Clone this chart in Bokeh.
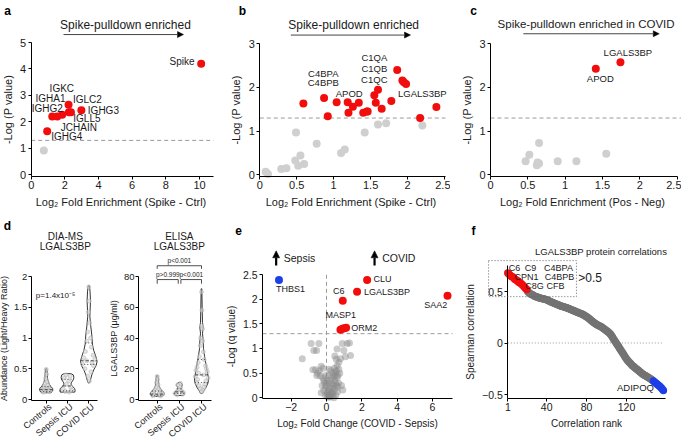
import numpy as np
from bokeh.plotting import figure
from bokeh.layouts import row, column
from bokeh.models import Label, Arrow, NormalHead, FixedTicker, BoxAnnotation, Range1d
from bokeh.embed import file_html
from bokeh.resources import INLINE

FONT = "Liberation Sans"
RED = "#f20d0d"
BLUE = "#1d3fe6"
LIGHT = "#cfcfcf"
DASH = "#9a9a9a"

# ---------------- data ----------------
# panel a
a_hit_x = [10.1, 0.95, 1.25, 1.55, 1.84, 2.22, 2.24, 2.36, 2.98]
a_hit_y = [4.20, 1.65, 2.20, 2.20, 2.27, 2.65, 2.36, 2.36, 2.44]
a_ns_x = [0.75]
a_ns_y = [0.92]
a_names = ["Spike", "IGKC", "IGHA1", "IGLC2", "IGHG2", "IGHG3", "IGLL5", "JCHAIN", "IGHG4"]
a_name_x = [8.96, 1.82, 1.15, 3.34, 0.95, 4.29, 3.31, 2.83, 2.11]
a_name_y = [4.28, 3.25, 2.90, 2.83, 2.52, 2.43, 2.12, 1.78, 1.46]

# panel b
b_hit_x = [0.59, 0.87, 0.92, 1.04, 1.19, 1.20, 1.26, 1.34, 1.40, 1.45, 1.46, 1.55, 1.57, 1.60, 1.65, 1.78, 1.86, 1.93, 1.95, 1.98, 2.17, 2.39]
b_hit_y = [1.63, 1.76, 1.34, 1.66, 1.66, 1.42, 1.56, 1.65, 1.42, 1.45, 1.45, 1.82, 1.65, 1.95, 1.51, 1.69, 2.40, 2.16, 2.12, 2.08, 1.30, 1.55]
b_ns_x = [0.49, 0.77, 0.48, 0.55, 0.52, 0.60, 0.29, 0.36, 0.08, 0.11, 1.10, 1.15, 1.42, 1.60, 1.71, 2.20]
b_ns_y = [0.97, 0.71, 0.33, 0.44, 0.21, 0.25, 0.13, 0.15, 0.07, 0.02, 0.50, 0.58, 0.97, 1.15, 1.18, 1.13]
b_names = ["C4BPA", "C4BPB", "APOD", "C1QA", "C1QB", "C1QC", "LGALS3BP"]
b_name_x = [0.86, 0.86, 1.21, 1.55, 1.55, 1.55, 2.20]
b_name_y = [2.33, 2.12, 1.86, 2.69, 2.43, 2.18, 1.86]

# panel c
c_hit_x = [1.74, 1.41]
c_hit_y = [2.58, 2.43]
c_ns_x = [0.65, 0.52, 0.47, 0.63, 0.62, 0.65, 0.90, 1.15, 1.55]
c_ns_y = [0.73, 0.46, 0.31, 0.28, 0.22, 0.26, 0.31, 0.31, 0.48]
c_names = ["LGALS3BP", "APOD"]
c_name_x = [1.84, 1.47]
c_name_y = [2.80, 2.21]

# panel d
groups = ["Controls", "Sepsis ICU", "COVID ICU"]
# DIA-MS violin outlines: levels and half widths (category units)
d1_levels = [
    [0.50, 0.42, 0.35, 0.30, 0.25, 0.21, 0.18, 0.15, 0.13, 0.11],
    [0.42, 0.40, 0.36, 0.32, 0.28, 0.25, 0.22, 0.18, 0.15, 0.12],
    [1.85, 1.75, 1.60, 1.45, 1.35, 1.20, 1.05, 0.90, 0.80, 0.70, 0.62, 0.55, 0.48, 0.40, 0.32, 0.27],
]
d1_half = [
    [0.03, 0.05, 0.06, 0.09, 0.14, 0.22, 0.30, 0.31, 0.28, 0.22],
    [0.16, 0.27, 0.30, 0.27, 0.19, 0.16, 0.22, 0.33, 0.36, 0.34],
    [0.03, 0.06, 0.08, 0.06, 0.05, 0.09, 0.14, 0.17, 0.23, 0.33, 0.39, 0.34, 0.23, 0.14, 0.08, 0.03],
]
d1_quart = [[0.13, 0.16, 0.21], [0.14, 0.22, 0.33], [0.57, 0.63, 0.92]]
d1_pts_y = [
    [0.49, 0.41, 0.34, 0.29, 0.26, 0.23, 0.21, 0.19, 0.18, 0.17, 0.16, 0.15, 0.15, 0.14, 0.13, 0.12],
    [0.40, 0.38, 0.35, 0.30, 0.25, 0.20, 0.17, 0.15, 0.13, 0.12],
    [1.83, 1.60, 1.42, 1.25, 1.10, 1.00, 0.95, 0.85, 0.78, 0.72, 0.68, 0.65, 0.63, 0.60, 0.58, 0.55, 0.50, 0.45, 0.38, 0.30],
]
d1_pts_dx = [
    [0.0, 0.02, -0.03, 0.04, -0.06, 0.08, -0.10, 0.12, -0.15, 0.05, 0.18, -0.20, 0.10, -0.08, 0.14, -0.12],
    [-0.08, 0.12, -0.15, 0.05, -0.05, 0.15, -0.20, 0.20, -0.10, 0.08],
    [0.0, 0.02, -0.03, 0.04, -0.06, 0.08, -0.10, 0.12, -0.16, 0.20, -0.24, 0.28, -0.10, 0.15, -0.30, 0.22, -0.18, 0.10, -0.05, 0.03],
]
d1_pval = "p=1.4x10\u207b\u2075"

# ELISA violins
d2_levels = [
    [15.5, 12.0, 9.0, 7.0, 5.5, 4.5, 3.5, 2.5, 2.0],
    [11.0, 10.0, 9.0, 8.0, 6.5, 5.5, 4.5, 3.5, 2.6],
    [72, 60, 50, 47, 43, 38, 33, 28, 23, 18, 14, 11, 8, 6, 4],
]
d2_half = [
    [0.03, 0.06, 0.08, 0.14, 0.24, 0.30, 0.32, 0.27, 0.15],
    [0.06, 0.12, 0.12, 0.08, 0.09, 0.15, 0.23, 0.24, 0.18],
    [0.015, 0.03, 0.045, 0.075, 0.045, 0.075, 0.09, 0.14, 0.20, 0.26, 0.32, 0.30, 0.21, 0.12, 0.045],
]
d2_quart = [[2.5, 3.5, 5.5], [4.0, 5.0, 7.0], [11.0, 16.0, 26.0]]
d2_pts_y = [
    [15.0, 13.0, 11.0, 9.5, 8.0, 7.0, 6.0, 5.5, 5.0, 4.5, 4.0, 4.0, 3.5, 3.0, 3.0, 2.5, 2.2],
    [10.5, 9.5, 8.0, 6.5, 5.5, 5.0, 4.5, 4.0, 3.5, 3.0],
    [70, 58, 48, 46, 40, 38, 35, 31, 28, 26, 24, 22, 21, 20, 19, 18, 17, 16, 15, 14, 13, 12, 11, 10, 9, 8, 7, 6, 5],
]
d2_pts_dx = [
    [0.0, 0.02, -0.03, 0.04, -0.05, 0.08, -0.1, 0.14, -0.16, 0.2, -0.22, 0.1, 0.25, -0.12, 0.06, -0.2, 0.15],
    [0.05, -0.08, 0.06, -0.05, 0.1, -0.12, 0.18, -0.2, 0.15, -0.1],
    [0.0, 0.02, 0.0, 0.05, -0.04, 0.05, -0.06, 0.08, -0.1, 0.12, -0.15, 0.18, -0.2, 0.22, -0.25, 0.26, -0.12, 0.1, -0.28, 0.3, -0.18, 0.2, -0.22, 0.15, -0.1, 0.12, -0.05, 0.06, 0.0],
]
d2_brackets_x = [[1, 1, 3, 3], [1, 1, 1.95, 1.95], [2.07, 2.07, 3, 3]]
d2_brackets_y = [[85, 87, 87, 85], [75.3, 78, 78, 75.3], [75.3, 78, 78, 75.3]]
d2_ptext = ["p<0.001", "p>0.999", "p<0.001"]
d2_ptext_x = [2.0, 1.48, 2.54]
d2_ptext_y = [90.2, 81.0, 81.0]

# panel e
e_up_x = [2.30, 1.73, 0.92, 6.85, 0.79, 0.90, 1.00, 1.11]
e_up_y = [2.39, 2.15, 1.97, 2.07, 1.38, 1.40, 1.41, 1.42]
e_down_x = [-2.69]
e_down_y = [2.39]
e_ns_x = [-1.37, -0.87, -0.72, -0.56, -0.43, -0.62, -0.77, -0.30, -0.55, -0.35, -0.15, -0.25, -0.06, -0.15, 0.04,
          -0.06, 0.13, 0.23, 0.32, 0.41, 0.51, 0.60, 0.41, 0.51, 0.70, 0.60, 0.47, 0.60, 0.89, 1.17, 0.98, 1.36,
          1.07, 0.79, 0.92, 0.64, 0.28, 1.30, 0.05, 0.15, 0.25, 0.35, 0.10, 0.20, 0.30, 0.45, 0.50, 0.35, 0.55,
          0.45, 0.30, 0.20, 0.10, 0.00, -0.10, -0.20, -0.40, -0.50, 0.38, 0.48, 0.58, 0.68, 0.62, 0.52, 0.42,
          0.02, 0.12, 0.25, 0.15, 0.65, 0.75, 0.85, -0.30, -0.05, 0.70, 0.55, -0.20, 0.08, 0.18]
e_ns_y = [0.79, 1.10, 0.96, 0.96, 1.10, 0.57, 0.57, 0.64, 0.45, 0.44, 0.35, 0.25, 0.22, 0.15, 0.10,
          0.05, 0.05, 0.13, 0.19, 0.25, 0.31, 0.41, 0.44, 0.52, 0.58, 0.65, 0.85, 0.99, 1.10, 1.10, 0.96, 0.86,
          0.83, 0.79, 0.16, 0.22, 0.09, 1.11, 0.02, 0.01, 0.03, 0.06, 0.15, 0.22, 0.28, 0.35, 0.45, 0.50, 0.55,
          0.60, 0.40, 0.35, 0.30, 0.25, 0.30, 0.40, 0.55, 0.50, 0.12, 0.18, 0.25, 0.30, 0.12, 0.05, 0.00,
          0.35, 0.45, 0.55, 0.58, 0.45, 0.50, 0.25, 0.10, 0.45, 0.72, 0.78, 0.60, 0.08, 0.04]
e_names = ["CLU", "LGALS3BP", "C6", "SAA2", "MASP1", "ORM2", "THBS1"]
e_name_x = [3.17, 3.43, 0.70, 6.19, 0.81, 2.13, -2.04]
e_name_y = [2.40, 2.15, 2.16, 1.89, 1.67, 1.42, 2.20]

# panel f: Spearman correlation by rank
f_corr = [0.68, 0.67, 0.66, 0.65, 0.645, 0.64, 0.63, 0.62, 0.615, 0.61, 0.60, 0.59, 0.585, 0.58, 0.57, 0.56, 0.55, 0.54, 0.53, 0.52,
          0.50, 0.49, 0.48, 0.475, 0.47, 0.465, 0.46, 0.455, 0.45, 0.448, 0.445, 0.44, 0.437, 0.435, 0.432, 0.43, 0.427, 0.425, 0.422, 0.42,
          0.415, 0.41, 0.405, 0.40, 0.396, 0.392, 0.388, 0.384, 0.38, 0.376, 0.372, 0.368, 0.364, 0.36, 0.357, 0.354, 0.351, 0.348, 0.345, 0.342,
          0.338, 0.334, 0.33, 0.326, 0.322, 0.318, 0.314, 0.31, 0.306, 0.302, 0.298, 0.294, 0.29, 0.286, 0.282, 0.278, 0.272, 0.266, 0.26, 0.254,
          0.248, 0.24, 0.232, 0.224, 0.215, 0.208, 0.20, 0.193, 0.186, 0.18, 0.175, 0.17, 0.165, 0.16, 0.155, 0.148, 0.14, 0.133, 0.126, 0.12,
          0.112, 0.104, 0.095, 0.085, 0.07, 0.055, 0.04, 0.025, 0.01, -0.005, -0.02, -0.035, -0.05, -0.065, -0.08, -0.095, -0.11, -0.125, -0.14, -0.155,
          -0.168, -0.18, -0.19, -0.20, -0.21, -0.22, -0.228, -0.236, -0.244, -0.252, -0.26, -0.268, -0.276, -0.284, -0.292, -0.30, -0.306, -0.312, -0.318, -0.324,
          -0.33, -0.336, -0.342, -0.348, -0.355, -0.362, -0.37, -0.378, -0.386, -0.394, -0.402, -0.41, -0.418, -0.428, -0.438, -0.45, -0.462]
f_pos_cut = 0.5
f_neg_count = 11
f_box_names = ["C6", "C9", "C4BPA", "CPN1", "C4BPB", "C8G", "CFB"]
f_box_x = [7.7, 23.8, 51.8, 19.7, 52.8, 27.8, 48.8]
f_box_y = [0.73, 0.73, 0.73, 0.636, 0.636, 0.55, 0.55]


# ---------------- helpers ----------------
def lin(cal):
    r1, v1, r2, v2 = cal
    k = (v2 - v1) / (r2 - r1)
    return lambda r: v1 + (r - r1) * k


def panel(x0, y0, W, H, xcal, ycal, left, right, bottom, ytop,
          tick_fs="10.5px", label_fs="10px", letter=None, letter_xy=(0, 0)):
    """Frame covers the whole figure; axes sit at fixed positions inside it."""
    fx, fy = lin(xcal), lin(ycal)
    p = figure(width=W, height=H, output_backend="svg", toolbar_location=None, title=None,
               x_range=Range1d(fx(x0), fx(x0 + W)), y_range=Range1d(fy(y0 + H), fy(y0)),
               min_border_left=0, min_border_right=0, min_border_top=0, min_border_bottom=0)
    p.outline_line_color = None
    p.xgrid.visible = False
    p.ygrid.visible = False
    xa, ya = p.xaxis[0], p.yaxis[0]
    xa.fixed_location = fy(bottom)
    ya.fixed_location = fx(left)
    xa.bounds = (fx(left), fx(right))
    ya.bounds = (fy(bottom), ytop)
    for ax in (xa, ya):
        ax.axis_line_color = "black"
        ax.axis_line_width = 1
        ax.major_tick_line_color = "black"
        ax.major_tick_in = 0
        ax.major_tick_out = 3
        ax.minor_tick_line_color = None
        ax.major_label_text_font = FONT
        ax.major_label_text_font_size = tick_fs
        ax.major_label_text_color = "#1a1a1a"
        ax.axis_label_text_font = FONT
        ax.axis_label_text_font_size = label_fs
        ax.axis_label_text_font_style = "normal"
        ax.axis_label_text_color = "#1a1a1a"
        ax.major_label_standoff = 2
        ax.axis_label_standoff = 3
    if letter:
        lx, ly = letter_xy
        p.add_layout(Label(x=lx - x0, y=H - (ly - y0), x_units="screen", y_units="screen",
                           text=letter, text_font=FONT, text_font_size="12px", text_font_style="bold",
                           text_align="center", text_baseline="middle", text_color="black"))
    return p


def txt(p, x, y, s, size="9.5px", align="center", color="#1a1a1a", angle=0.0):
    p.add_layout(Label(x=x, y=y, text=s, text_font=FONT, text_font_size=size, angle=angle,
                       text_align=align, text_baseline="middle", text_color=color))


def head_arrow(p, xs, ys, xe, ye, width=1, size=6, color="#444"):
    p.add_layout(Arrow(end=NormalHead(size=size, fill_color="black", line_color="black", line_width=0.5),
                       x_start=xs, y_start=ys, x_end=xe, y_end=ye,
                       line_color=color, line_width=width))


def hline(p, y, x_start=None, x_end=None, dash="4 3"):
    b0, b1 = p.xaxis[0].bounds
    x_start = b0 if x_start is None else x_start
    x_end = b1 if x_end is None else x_end
    p.line([x_start, x_end], [y, y], line_color=DASH, line_dash=dash, line_width=1)


# ---------------- panel a ----------------
pa = panel(0, 0, 225, 215, (30.7, 0, 199, 10), (174.3, 0, 42, 5), 30.7, 213, 175.5, 5,
           tick_fs="11px", label_fs="11px", letter="a", letter_xy=(7, 10))
pa.xaxis.ticker = FixedTicker(ticks=[0, 2, 4, 6, 8, 10])
pa.yaxis.ticker = FixedTicker(ticks=[0, 1, 2, 3, 4, 5])
pa.xaxis.axis_label = "Log\u2082 Fold Enrichment  (Spike - Ctrl)"
pa.yaxis.axis_label = "-Log (P value)"
hline(pa, 1.3)
pa.scatter(a_ns_x, a_ns_y, size=8, color=LIGHT, line_color=None)
pa.scatter(a_hit_x, a_hit_y, size=8, color=RED, line_color=None)
for n, x, y in zip(a_names, a_name_x, a_name_y):
    txt(pa, x, y, n, size="10px")
txt(pa, 5.6, 5.66, "Spike-pulldown enriched", size="12px")
head_arrow(pa, 1.92, 5.30, 9.05, 5.30)

# ---------------- panel b ----------------
pb = panel(225, 0, 225, 215, (259.3, 0, 444, 2.5), (174.3, 0, 43.3, 3), 259.3, 445, 175.5, 3,
           tick_fs="11px", label_fs="11px", letter="b", letter_xy=(242, 10))
pb.xaxis.ticker = FixedTicker(ticks=[0, 0.5, 1.0, 1.5, 2.0, 2.5])
pb.yaxis.ticker = FixedTicker(ticks=[0, 1, 2, 3])
pb.xaxis.axis_label = "Log\u2082 Fold Enrichment  (Spike - Ctrl)"
pb.yaxis.axis_label = "-Log (P value)"
hline(pb, 1.3)
pb.scatter(b_ns_x, b_ns_y, size=8, color=LIGHT, line_color=None)
pb.scatter(b_hit_x, b_hit_y, size=8, color=RED, line_color=None)
for n, x, y in zip(b_names, b_name_x, b_name_y):
    txt(pb, x, y, n)
txt(pb, 1.27, 3.43, "Spike-pulldown enriched", size="12px")
head_arrow(pb, 0.42, 3.20, 2.04, 3.20)

# ---------------- panel c ----------------
pc = panel(450, 0, 231, 215, (490, 0, 676.7, 2.5), (174.3, 0, 43.3, 3), 490, 677, 175.5, 3,
           tick_fs="11px", label_fs="11px", letter="c", letter_xy=(473, 10))
pc.xaxis.ticker = FixedTicker(ticks=[0, 0.5, 1.0, 1.5, 2.0, 2.5])
pc.yaxis.ticker = FixedTicker(ticks=[0, 1, 2, 3])
pc.xaxis.axis_label = "Log\u2082 Fold Enrichment  (Pos - Neg)"
pc.yaxis.axis_label = "-Log (P value)"
hline(pc, 1.3, x_end=2.55)
pc.scatter(c_ns_x, c_ns_y, size=8, color=LIGHT, line_color=None)
pc.scatter(c_hit_x, c_hit_y, size=8, color=RED, line_color=None)
for n, x, y in zip(c_names, c_name_x, c_name_y):
    txt(pc, x, y, n)
txt(pc, 1.28, 3.45, "Spike-pulldown enriched in COVID", size="11.5px")
head_arrow(pc, 0.44, 3.23, 2.26, 3.23)


# ---------------- panel d ----------------
def violins(p, levels, half, quart, pts_y, pts_dx):
    for i, (lv, hw, q, py, pdx) in enumerate(zip(levels, half, quart, pts_y, pts_dx)):
        c = i + 1
        xs = [c + w for w in hw] + [c - w for w in reversed(hw)]
        ys = list(lv) + list(reversed(lv))
        p.patch(xs, ys, fill_color="white", line_color="black", line_width=0.8)
        p.scatter([c + d for d in pdx], py, size=4, fill_color="#d0d0d0", fill_alpha=0.6,
                  line_color="#b0b0b0", line_width=0.5)
        order = np.argsort(lv)
        lv_s = np.asarray(lv, dtype=float)[order]
        hw_s = np.asarray(hw, dtype=float)[order]
        for k, qv in enumerate(q):
            w = float(np.interp(qv, lv_s, hw_s))
            p.line([c - w, c + w], [qv, qv], line_color="#222", line_width=0.8,
                   line_dash="3 2" if k == 1 else "1 2")


def cat_axis(p, dx, y_lab):
    ax = p.xaxis[0]
    ax.ticker = FixedTicker(ticks=[1, 2, 3])
    ax.major_label_text_color = None
    ya = p.yaxis[0]
    ya.major_label_text_font_size = "9.5px"
    ya.axis_label_text_font_size = "9px"
    ya.major_label_standoff = 1
    ya.axis_label_standoff = 2
    for i, g in enumerate(groups):
        txt(p, i + 1 + dx, y_lab, g, size="9px", align="right", angle=0.70)


pd1 = panel(0, 215, 110, 224, (45.7, 1, 88.3, 3), (399, 0, 276, 2), 30.7, 96.7, 400, 2,
            letter="d", letter_xy=(7, 225))
cat_axis(pd1, 0.19, -0.098)
pd1.yaxis.ticker = FixedTicker(ticks=[0, 0.5, 1.0, 1.5, 2.0])
pd1.yaxis.axis_label = "Abundance (Light/Heavy Ratio)"
violins(pd1, d1_levels, d1_half, d1_quart, d1_pts_y, d1_pts_dx)
txt(pd1, 1.44, 1.69, d1_pval, size="8px")
txt(pd1, 1.9, 2.65, "DIA-MS", size="10px")
txt(pd1, 1.9, 2.49, "LGALS3BP", size="10px")

pd2 = panel(110, 215, 115, 224, (156.7, 1, 201, 3), (399, 0, 276, 80), 138, 210.7, 400, 80)
cat_axis(pd2, 0.18, -3.9)
pd2.yaxis.ticker = FixedTicker(ticks=[0, 20, 40, 60, 80])
pd2.yaxis.axis_label = "LGALS3BP (\u03bcg/ml)"
violins(pd2, d2_levels, d2_half, d2_quart, d2_pts_y, d2_pts_dx)
pd2.multi_line(d2_brackets_x, d2_brackets_y, line_color="#222", line_width=0.8)
for s, x, y in zip(d2_ptext, d2_ptext_x, d2_ptext_y):
    txt(pd2, x, y, s, size="6.5px")
txt(pd2, 2.0, 106, "ELISA", size="10px")
txt(pd2, 2.0, 99.5, "LGALS3BP", size="10px")

# ---------------- panel e ----------------
pe = panel(225, 215, 230, 224, (326, 0, 432, 6), (397.3, 0, 274, 2.5), 262, 452, 397.5, 2.5,
           letter="e", letter_xy=(238, 230))
pe.xaxis.ticker = FixedTicker(ticks=[-2, 0, 2, 4, 6])
pe.yaxis.ticker = FixedTicker(ticks=[0, 0.5, 1.0, 1.5, 2.0, 2.5])
pe.xaxis.axis_label = "Log\u2082 Fold Change (COVID - Sepsis)"
pe.yaxis.axis_label = "-Log (q value)"
hline(pe, 1.3)
pe.line([0, 0], [0, 2.55], line_color=DASH, line_dash="4 3", line_width=1)
pe.scatter(e_ns_x, e_ns_y, size=7, color="#8a8a8a", fill_alpha=0.45, line_color=None)
pe.scatter(e_up_x, e_up_y, size=8, color=RED, line_color=None)
pe.scatter(e_down_x, e_down_y, size=8, color=BLUE, line_color=None)
for n, x, y in zip(e_names, e_name_x, e_name_y):
    txt(pe, x, y, n, size="9px")
head_arrow(pe, -2.85, 2.68, -2.85, 2.98, width=2.2, size=7, color="black")
head_arrow(pe, 2.72, 2.68, 2.72, 2.98, width=2.2, size=7, color="black")
txt(pe, -2.42, 2.83, "Sepsis", size="10.5px", align="left")
txt(pe, 3.15, 2.83, "COVID", size="10.5px", align="left")

# ---------------- panel f ----------------
pf = panel(455, 215, 226, 224, (507.3, 1, 626, 120), (342.5, 0, 291, 0.5), 507.3, 665, 397.5, 0.748,
           letter="f", letter_xy=(473, 230))
pf.xaxis.ticker = FixedTicker(ticks=[1, 40, 80, 120])
pf.yaxis.ticker = FixedTicker(ticks=[-0.5, 0.0, 0.5])
pf.xaxis.axis_label = "Correlation rank"
pf.yaxis.axis_label = "Spearman correlation"
hline(pf, 0, x_end=157, dash="1 2")
ranks = np.arange(1, len(f_corr) + 1)
corr = np.asarray(f_corr)
n_all = len(f_corr)
pos = corr > f_pos_cut
neg = ranks > n_all - f_neg_count
mid = ~(pos | neg)
pf.scatter(ranks[mid], corr[mid], size=7.5, color="#737373", line_color=None)
pf.scatter(ranks[pos], corr[pos], size=7.5, color=RED, line_color=None)
pf.scatter(ranks[neg], corr[neg], size=7.5, color=BLUE, line_color=None)
pf.add_layout(BoxAnnotation(left=-18.3, right=69.8, bottom=0.45, top=0.80, fill_color=None,
                            fill_alpha=0, line_color="#666666", line_alpha=1.0,
                            line_dash="1 2", line_width=1))
for n, x, y in zip(f_box_names, f_box_x, f_box_y):
    txt(pf, x, y, n, size="9px")
txt(pf, 71.6, 0.63, ">0.5", size="12px", align="left")
txt(pf, 129, -0.43, "ADIPOQ", size="9.5px")
txt(pf, 94.5, 0.89, "LGALS3BP protein correlations", size="9.5px")

layout = column(row(pa, pb, pc), row(pd1, pd2, pe, pf))
open("out.html", "w").write(file_html(layout, INLINE))
